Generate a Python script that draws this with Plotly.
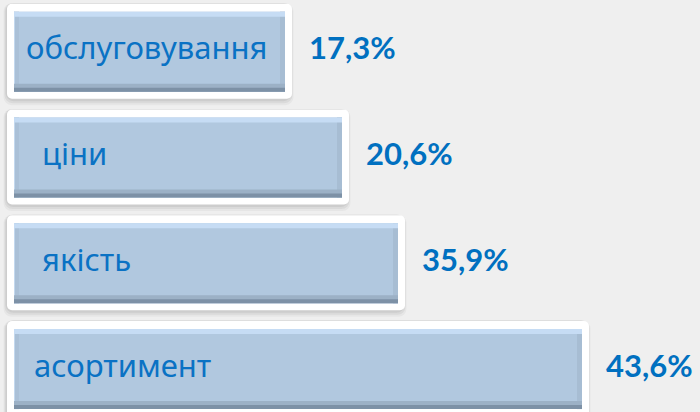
import plotly.graph_objects as go

# ---- data ----
categories = ["обслуговування", "\u00a0\u00a0ціни", "\u00a0\u00a0якість", "\u00a0асортимент"]
values = [17.3, 20.6, 35.9, 43.6]
value_labels = ["17,3%", "20,6%", "35,9%", "43,6%"]
# drawn length of each infographic bar (axis units)
bar_lengths = [285, 342, 398, 582]

# ---- style constants ----
BG = "#efefef"
BLUE_TXT = "#0a72c4"
FILL = "#b1c8df"
n = len(categories)
ypos = list(range(n))
PX = 105.8            # pixels per y unit
inner_w = 80 / PX
outer_w = 95 / PX
x0_outer = 7
x0_inner = 14

fig = go.Figure()

def hbar(x, base, width, color, offset=None, radius=None, opacity=1.0):
    kw = dict(orientation="h", y=ypos, x=x, base=base, width=width,
              marker=dict(color=color, line=dict(width=0)),
              opacity=opacity, hoverinfo="skip", showlegend=False)
    if offset is not None:
        kw["offset"] = offset
    if radius is not None:
        kw["marker"]["cornerradius"] = radius
    fig.add_trace(go.Bar(**kw))

# shadows
for dx, dy, a in [(5, 4, 0.035), (3, 2, 0.05), (1, 1, 0.06)]:
    hbar([L - x0_outer + 7 + dx for L in bar_lengths], x0_outer - 1 - dx / 2,
         outer_w + (2 + dx) / PX, f"rgba(0,0,0,{a})",
         offset=-outer_w / 2 - 1 / PX, radius=8)
# white frame
hbar([L + 7 - x0_outer for L in bar_lengths], x0_outer, outer_w, "#ffffff",
     offset=-outer_w / 2 - 0.5 / PX, radius=5)
# inner blue
hbar([L - x0_inner for L in bar_lengths], x0_inner, inner_w, FILL)
# right bevel
hbar([5] * n, [L - 5 for L in bar_lengths], inner_w, "#a7bdd3")
# left bevel
hbar([5] * n, x0_inner, inner_w, "#aac0d7")
hbar([1] * n, x0_inner, inner_w, "#c3d8ee")
# top bevel
hbar([L - x0_inner for L in bar_lengths], x0_inner, 5 / PX, "#c6dcf4",
     offset=-inner_w / 2)
# bottom bevel (gradient-ish)
hbar([L - x0_inner for L in bar_lengths], x0_inner, 8 / PX, "#9cb1c6",
     offset=inner_w / 2 - 8 / PX)
hbar([L - x0_inner for L in bar_lengths], x0_inner, 4 / PX, "#7d91a6",
     offset=inner_w / 2 - 4 / PX)

# category text inside bars
fig.add_trace(go.Scatter(
    x=[x0_inner + 12] * n, y=ypos, mode="text", text=categories,
    textposition="middle right",
    textfont=dict(family="Noto Sans", size=31, color=BLUE_TXT),
    hoverinfo="skip", showlegend=False, cliponaxis=False))

# value labels
fig.add_trace(go.Scatter(
    x=[L + 24 for L in bar_lengths], y=ypos, mode="text", text=value_labels,
    textposition="middle right",
    textfont=dict(family="Lato", size=31, color="#0070c0", weight="bold"),
    hoverinfo="skip", showlegend=False, cliponaxis=False))

y_top = -51.7 / PX
y_bot = (412 - 51.7) / PX
fig.update_layout(
    width=700, height=412, margin=dict(l=0, r=0, t=0, b=0),
    paper_bgcolor=BG, plot_bgcolor=BG, barmode="overlay",
    xaxis=dict(range=[0, 700], visible=False, fixedrange=True),
    yaxis=dict(range=[y_bot, y_top], visible=False, fixedrange=True),
    showlegend=False,
)

fig.write_html("out.html", config={"displayModeBar": False},
               post_script="document.body.style.margin='0';document.body.style.overflow='hidden';")
